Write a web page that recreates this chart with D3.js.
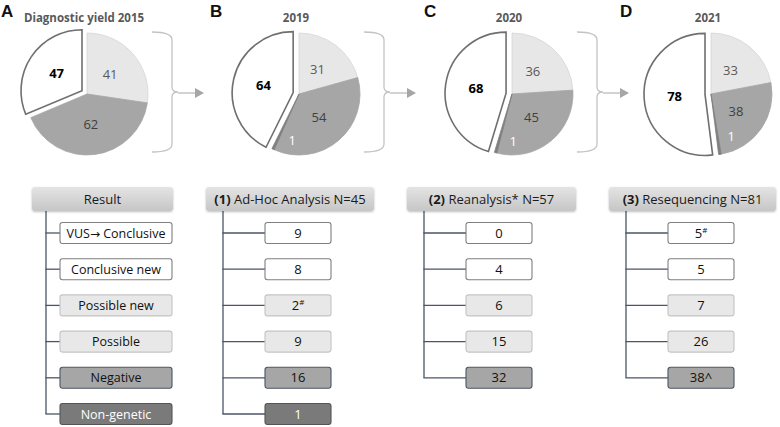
<!DOCTYPE html>
<html>
<head>
<meta charset="utf-8">
<script src="https://cdn.jsdelivr.net/npm/d3@7"></script>
<style>
  body { margin: 0; background: #fff; }
  text { font-family: "Open Sans", sans-serif; }
</style>
</head>
<body>
<div id="chart"></div>
<script>
const width = 780;
const height = 427;

// ---- pie data (slices clockwise from 12 o'clock) ----
const years = ["2015", "2019", "2020", "2021"];
const pieTitles = ["Diagnostic yield 2015", "2019", "2020", "2021"];
const panelLetters = ["A", "B", "C", "D"];
const sliceKeys = ["possible", "negative", "nonGenetic", "conclusive"];
const possibleCounts = [41, 31, 36, 33];
const negativeCounts = [62, 54, 45, 38];
const nonGeneticCounts = [0, 1, 1, 1];
const conclusiveCounts = [47, 64, 68, 78];

// ---- tree data ----
const resultLabels = ["VUS→ Conclusive", "Conclusive new", "Possible new", "Possible", "Negative", "Non-genetic"];
const stepNumbers = ["(1)", "(2)", "(3)"];
const stepNames = [" Ad-Hoc Analysis N=45", " Reanalysis* N=57", " Resequencing N=81"];
const adHocValues = ["9", "8", "2#", "9", "16", "1"];
const reanalysisValues = ["0", "4", "6", "15", "32"];
const resequencingValues = ["5#", "5", "7", "26", "38^"];

const svg = d3
  .select("#chart")
  .append("svg")
  .attr("width", width)
  .attr("height", height);

//-------colors-------//
const sliceFill = d3.scaleOrdinal().domain(sliceKeys).range(["#e7e7e7", "#a6a6a6", "#7f7f7f", "#ffffff"]);
const sliceStroke = d3.scaleOrdinal().domain(sliceKeys).range(["#d6d6d6", "#a6a6a6", "#7f7f7f", "#6f6f6f"]);
const labelFill = d3.scaleOrdinal().domain(sliceKeys).range(["#595959", "#404040", "#ffffff", "#000000"]);

// rows: 0-1 conclusive, 2-3 possible, 4 negative, 5 non-genetic
const boxFill = ["#ffffff", "#ffffff", "#e8e8e8", "#e8e8e8", "#a6a6a6", "#7a7a7a"];
const boxStroke = ["#7f7f7f", "#7f7f7f", "#c4c4c4", "#c4c4c4", "#4b5563", "#555555"];
const boxText = ["#111", "#111", "#111", "#111", "#111", "#fff"];

//-------pies-------//
const R = 61;
const pieY = 94;
const explode = 6;
const xPie = d3.scaleOrdinal().domain(years).range([87, 299, 512, 711]);

const pie = d3.pie().sort(null).value((d) => d.value);
const arc = d3.arc().innerRadius(0).outerRadius(R);

years.forEach((year, i) => {
  const cx = xPie(year);
  const values = [possibleCounts[i], negativeCounts[i], nonGeneticCounts[i], conclusiveCounts[i]];
  const slices = pie(sliceKeys.map((k, j) => ({ key: k, value: values[j] }))).filter((d) => d.value > 0);

  const g = svg.append("g").attr("transform", `translate(${cx},${pieY})`);

  const offset = (d) => {
    if (d.data.key !== "conclusive") return [0, 0];
    const a = (d.startAngle + d.endAngle) / 2;
    return [Math.sin(a) * explode, -Math.cos(a) * explode];
  };

  g.selectAll("path")
    .data(slices)
    .join("path")
    .attr("d", arc)
    .attr("transform", (d) => `translate(${offset(d)})`)
    .attr("fill", (d) => sliceFill(d.data.key))
    .attr("stroke", (d) => sliceStroke(d.data.key))
    .attr("stroke-width", (d) => (d.data.key === "conclusive" ? 1.6 : 0.8))
    .attr("stroke-linejoin", "miter");

  g.selectAll("text")
    .data(slices)
    .join("text")
    .attr("transform", (d) => {
      let a = (d.startAngle + d.endAngle) / 2;
      let r = R * 0.5;
      if (d.data.key === "nonGenetic") {
        a -= (17 * Math.PI) / 180;
        r = R * 0.77;
      }
      const o = offset(d);
      return `translate(${Math.sin(a) * r + o[0]},${-Math.cos(a) * r + o[1]})`;
    })
    .attr("text-anchor", "middle")
    .attr("dy", "0.36em")
    .attr("font-size", 13)
    .attr("font-weight", (d) => (d.data.key === "conclusive" ? "bold" : "normal"))
    .attr("fill", (d) => labelFill(d.data.key))
    .text((d) => d.value);

  svg.append("text")
    .attr("x", cx - 3)
    .attr("y", 22)
    .attr("text-anchor", "middle")
    .attr("font-size", 11.5)
    .attr("font-weight", "bold")
    .attr("fill", "#595959")
    .text(pieTitles[i]);

  //---brackets + arrows (not after the last pie)---//
  if (i < years.length - 1) {
    const hook = cx + 65, vx = cx + 85, top = 32, bot = 152, tip = 92;
    svg.append("path")
      .attr("d", `M${hook},${top} Q${vx},${top} ${vx},${top + 8} L${vx},${tip - 5} Q${vx},${tip} ${vx + 6},${tip} Q${vx},${tip} ${vx},${tip + 5} L${vx},${bot - 8} Q${vx},${bot} ${hook},${bot}`)
      .attr("fill", "none")
      .attr("stroke", "#c3c3c3")
      .attr("stroke-width", 1.3);
    svg.append("line")
      .attr("x1", vx + 6).attr("x2", cx + 109)
      .attr("y1", tip + 1).attr("y2", tip + 1)
      .attr("stroke", "#a6a6a6").attr("stroke-width", 1);
    svg.append("path")
      .attr("d", `M${cx + 108},${tip - 4} L${cx + 117},${tip + 1} L${cx + 108},${tip + 6} Z`)
      .attr("fill", "#a6a6a6");
  }
});

//---panel letters---//
svg.selectAll("text.letter")
  .data(panelLetters)
  .join("text")
  .attr("class", "letter")
  .attr("x", (d, i) => [1, 210, 424, 620][i])
  .attr("y", 17)
  .attr("font-size", 17)
  .attr("font-weight", "bold")
  .attr("fill", "#111")
  .style("font-family", "'Liberation Sans', Arial, sans-serif")
  .text((d) => d);

//-------tree-------//
const defs = svg.append("defs");
const grad = defs.append("linearGradient").attr("id", "hdr").attr("x1", 0).attr("x2", 0).attr("y1", 0).attr("y2", 1);
grad.append("stop").attr("offset", 0).attr("stop-color", "#e4e4e4");
grad.append("stop").attr("offset", 1).attr("stop-color", "#c6c6c6");
const shadow = defs.append("filter").attr("id", "sh").attr("x", -0.1).attr("y", -0.2).attr("width", 1.2).attr("height", 1.6);
shadow.append("feDropShadow").attr("dx", 0).attr("dy", 1).attr("stdDeviation", 0.8).attr("flood-color", "#000").attr("flood-opacity", 0.25);

const yRow = d3.scaleLinear().domain([0, 5]).range([233, 414]);
const columns = ["result", "adhoc", "reanalysis", "resequencing"];
const xCol = d3.scaleOrdinal().domain(columns).range([32, 206, 407, 609]);
const headerW = d3.scaleOrdinal().domain(columns).range([141, 168, 169, 167]);
const headerTop = 187;
const headerH = 24;
const boxH = 21;

function addLabel(sel, s) {
  if (s.includes("→")) {
    const parts = s.split("→");
    sel.append("tspan").text(parts[0]);
    sel.append("tspan").style("font-family", "'DejaVu Sans', sans-serif").attr("font-size", 12).text("→");
    sel.append("tspan").text(parts[1]);
    return;
  }
  const sup = s.endsWith("#");
  sel.text(sup ? s.slice(0, -1) : s);
  if (sup) {
    sel.append("tspan").attr("font-size", 8).attr("dy", -5).text("#");
  }
}

columns.forEach((col, c) => {
  const x0 = xCol(col);
  const hw = headerW(col);
  const g = svg.append("g");
  const labels = c === 0 ? resultLabels : [adHocValues, reanalysisValues, resequencingValues][c - 1];
  const lineX = x0 + (c === 0 ? 14 : 17);
  const bx = x0 + (c === 0 ? 28 : 59);
  const bw = c === 0 ? 112 : 66;

  // connector lines
  g.append("line")
    .attr("x1", lineX).attr("x2", lineX)
    .attr("y1", headerTop + headerH).attr("y2", yRow(labels.length - 1))
    .attr("stroke", "#4a5568").attr("stroke-width", 1.3);
  g.selectAll("line.branch")
    .data(labels)
    .join("line")
    .attr("class", "branch")
    .attr("x1", lineX - 0.6).attr("x2", bx)
    .attr("y1", (d, i) => yRow(i)).attr("y2", (d, i) => yRow(i))
    .attr("stroke", "#4a5568").attr("stroke-width", 1.3);

  // header
  g.append("rect")
    .attr("x", x0).attr("y", headerTop)
    .attr("width", hw).attr("height", headerH)
    .attr("rx", 3)
    .attr("fill", "url(#hdr)")
    .attr("filter", "url(#sh)");
  const ht = g.append("text")
    .attr("x", x0 + hw / 2).attr("y", headerTop + headerH / 2)
    .attr("dy", "0.36em")
    .attr("text-anchor", "middle")
    .attr("font-size", 13)
    .attr("fill", "#1a1a1a");
  if (c === 0) {
    ht.text("Result");
  } else {
    ht.append("tspan").attr("font-weight", "bold").text(stepNumbers[c - 1]);
    ht.append("tspan").text(stepNames[c - 1]);
  }

  // result boxes
  const rows = g.selectAll("g.row")
    .data(labels)
    .join("g")
    .attr("class", "row")
    .attr("transform", (d, i) => `translate(${bx},${yRow(i) - boxH / 2})`);
  rows.append("rect")
    .attr("width", bw).attr("height", boxH)
    .attr("rx", 2.5)
    .attr("fill", (d, i) => boxFill[i])
    .attr("stroke", (d, i) => boxStroke[i])
    .attr("stroke-width", 1.1);
  rows.append("text")
    .attr("x", bw / 2).attr("y", boxH / 2)
    .attr("dy", "0.36em")
    .attr("text-anchor", "middle")
    .attr("font-size", c === 0 ? 12.5 : 13)
    .attr("fill", (d, i) => boxText[i])
    .each(function (d) { addLabel(d3.select(this), d); });
});
</script>
</body>
</html>
